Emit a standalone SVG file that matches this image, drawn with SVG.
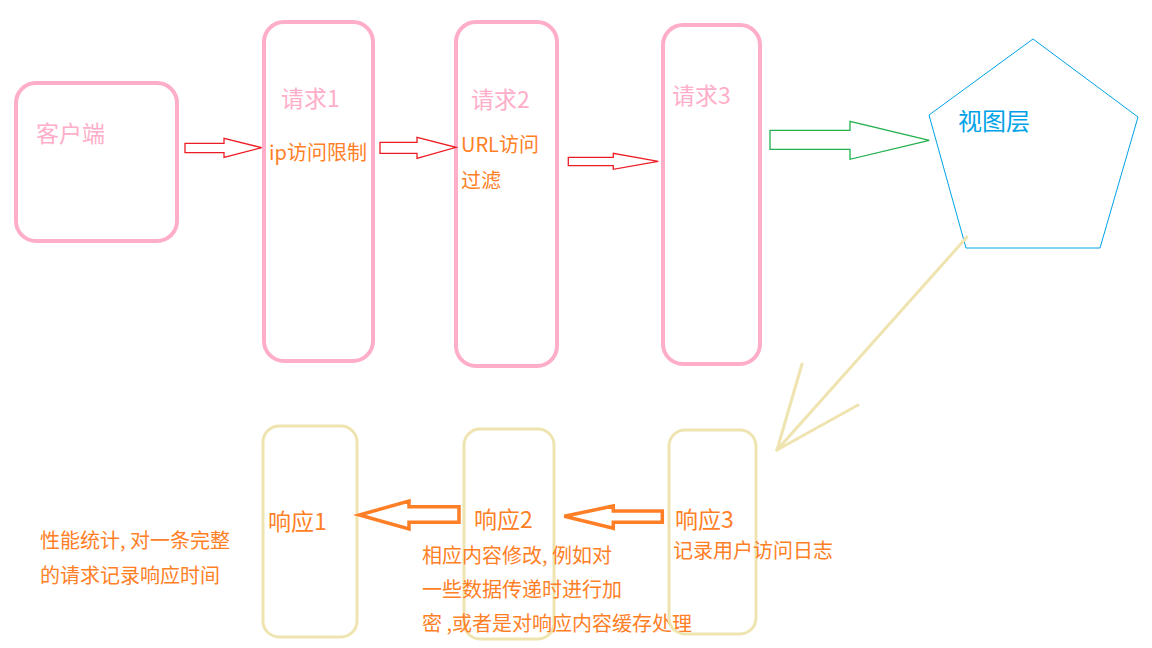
<svg xmlns="http://www.w3.org/2000/svg" width="1152" height="648" viewBox="0 0 1152 648">
<style>
text{font-family:"Noto Sans CJK SC","Microsoft YaHei","Noto Sans",sans-serif}
.pk{fill:none;stroke:#FFAEC9;stroke-width:4}
.bg{fill:none;stroke:#EFE4B0;stroke-width:3}
.tp{fill:#FFAEC9;font-size:23px}
.to{fill:#FF7F27;font-size:20px}
.tr{fill:#FF7F27;font-size:23px}
.ar{fill:none;stroke:#ED1C24;stroke-width:1.3}
.ao{fill:none;stroke:#FF7F27;stroke-width:3.5}
</style>
<rect width="1152" height="648" fill="#fff"/>
<g id="client"><rect class="pk" x="16" y="83" width="161" height="158" rx="20"/><text class="tp" x="36" y="142" font-size="22">客户端</text></g>
<g id="req1"><rect class="pk" x="264" y="22" width="109" height="339" rx="20"/><text class="tp" x="281" y="107">请求1</text><text class="to" x="269" y="160">ip访问限制</text></g>
<g id="req2"><rect class="pk" x="456" y="22" width="101" height="344" rx="20"/><text class="tp" x="471" y="108">请求2</text><text class="to" x="461" y="152">URL访问</text><text class="to" x="461" y="188">过滤</text></g>
<g id="req3"><rect class="pk" x="663" y="25" width="97" height="339" rx="20"/><text class="tp" x="672" y="104">请求3</text></g>
<g id="view"><polygon points="1033,39 1138,117 1100,248 966,248 929,115" fill="none" stroke="#00A2E8" stroke-width="1"/><text x="958" y="130" fill="#00A2E8" font-size="24">视图层</text></g>
<g id="resp1"><rect class="bg" x="263" y="426" width="94" height="211" rx="16"/><text class="tr" x="268" y="530">响应1</text></g>
<g id="resp2"><rect class="bg" x="464" y="429" width="90" height="210" rx="16"/><text class="tr" x="474" y="528">响应2</text>
<text class="to" x="422" y="563">相应内容修改, 例如对</text><text class="to" x="422" y="597">一些数据传递时进行加</text><text class="to" x="422" y="631">密 ,或者是对响应内容缓存处理</text></g>
<g id="resp3"><rect class="bg" x="669" y="430" width="87" height="204" rx="16"/><text class="tr" x="675" y="528">响应3</text><text class="to" x="673" y="558">记录用户访问日志</text></g>
<g id="note"><text class="to" x="40" y="548">性能统计, 对一条完整</text><text class="to" x="40" y="583">的请求记录响应时间</text></g>
<g id="connectors">
<polygon class="ar" points="185,143.3 224,143.3 224,138.3 261.7,147.7 224,157.3 224,152.7 185,152.7"/>
<polygon class="ar" points="380,142.3 417,142.3 417,137.3 456,147.3 417,158.3 417,153.3 380,153.3"/>
<polygon class="ar" points="568.3,157.3 613.3,157.3 613.3,153.3 658.3,161.3 613.3,169.3 613.3,165.7 568.3,165.7"/>
<polygon points="770,130.3 850,130.3 850,121.3 929.3,140.3 850,159.3 850,149.3 770,149.3" fill="none" stroke="#22B14C" stroke-width="1.3"/>
<g stroke="#EFE4B0" stroke-width="3" fill="none" stroke-linecap="round"><line x1="967" y1="237" x2="777" y2="450"/><line x1="777" y1="450" x2="802" y2="364"/><line x1="777" y1="450" x2="858" y2="405"/></g>
<polygon class="ao" points="459,506.7 409,506.7 409,501 359.3,515 409,529 409,522.3 459,522.3"/>
<polygon class="ao" points="662.3,511 613.3,511 613.3,506 564.3,516.3 613.3,528.3 613.3,522.3 662.3,522.3"/>
</g>
</svg>
